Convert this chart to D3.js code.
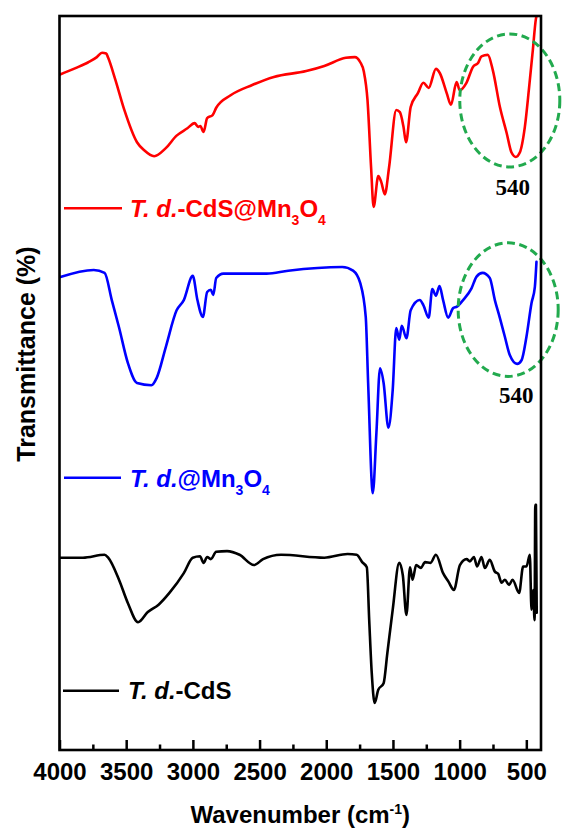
<!DOCTYPE html>
<html>
<head>
<meta charset="utf-8">
<script src="https://cdn.jsdelivr.net/npm/d3@7/dist/d3.min.js"></script>
<style>
  html, body { margin: 0; padding: 0; background: #fff; }
  svg { display: block; }
  text { font-family: "Liberation Sans", Arial, sans-serif; font-weight: bold; }
</style>
</head>
<body>
<svg id="chart" width="563" height="832"></svg>
<script>
// ---- Data (wavenumber cm^-1, transmittance a.u., stacked) ----
const redSeries = [
  [4000,92.0],[3880,92.9],[3784,93.7],[3720,94.4],[3681,95.0],[3650,94.9],[3635,94.3],[3581,91.3],[3514,87.2],[3419,82.8],[3365,81.7],
  [3290,80.9],[3203,82.0],[3122,83.7],[3041,84.7],[2987,85.4],[2960,84.9],[2944,85.0],[2920,84.2],
  [2893,86.1],[2852,86.5],[2825,87.5],[2717,89.2],[2555,90.6],[2393,91.7],[2150,92.5],[2015,93.2],
  [1853,94.3],[1786,94.4],[1745,93.7],[1718,92.4],[1691,88.6],[1664,79.4],[1645,74.0],[1610,78.2],
  [1588,77.4],[1561,75.7],[1529,79.4],[1475,87.2],[1448,86.9],[1421,84.9],[1402,82.8],[1367,87.6],
  [1313,89.5],[1272,90.9],[1232,90.2],[1178,92.8],[1148,92.2],[1097,89.5],[1065,87.9],[1023,91.0],
  [999,89.9],[949,90.9],[899,93.1],[862,93.6],[836,94.5],[789,94.7],[751,92.6],[698,87.6],
  [648,84.1],[611,81.4],[579,80.8],[549,81.4],[511,84.9],[479,90.3],[451,95.4],[429,99.5],[424,100]
];
const blueSeries = [
  [4000,64.4],[3743,65.4],[3662,65.0],[3608,61.3],[3554,57.6],[3487,52.7],[3419,50.0],[3311,49.7],
  [3271,50.7],[3203,54.9],[3122,59.9],[3068,61.3],[3001,64.6],[2966,61.3],[2925,59.0],[2893,62.4],
  [2866,62.7],[2847,62.0],[2825,64.3],[2771,64.9],[2447,64.9],[2285,65.3],[1880,65.8],[1799,65.3],
  [1745,63.6],[1704,59.0],[1686,50.0],[1651,35.0],[1624,43.2],[1597,52.0],[1570,50.0],[1534,43.9],
  [1502,49.0],[1475,57.5],[1453,55.9],[1434,57.8],[1399,56.1],[1367,59.9],[1299,61.3],[1272,60.6],
  [1232,58.9],[1205,62.8],[1178,61.9],[1151,63.2],[1124,61.3],[1086,58.9],[1049,60.2],[1020,60.4],
  [974,61.3],[911,62.9],[873,64.5],[828,65.0],[774,64.3],[736,61.3],[699,58.9],[661,56.3],
  [624,53.8],[569,52.6],[536,53.1],[499,56.3],[461,60.9],[436,63.1],[424,66.5]
];
const blackSeries = [
  [4000,26.2],[3824,26.2],[3662,26.6],[3635,26.2],[3554,23.2],[3487,20.0],[3411,17.4],[3338,18.8],
  [3257,19.8],[3176,21.4],[3068,24.1],[3001,26.2],[2947,26.4],[2920,25.5],[2893,26.3],[2866,26.0],
  [2825,27.0],[2744,27.1],[2650,26.6],[2542,25.2],[2474,26.0],[2339,26.6],[2015,26.2],[1840,26.7],
  [1772,26.6],[1731,25.6],[1696,24.9],[1678,17.7],[1659,10.5],[1637,6.4],[1610,8.2],[1570,9.1],
  [1542,13.2],[1502,19.1],[1453,25.5],[1426,23.8],[1399,18.4],[1372,24.9],[1353,23.2],[1326,25.2],
  [1291,24.8],[1259,25.6],[1218,25.5],[1178,26.6],[1124,24.1],[1083,22.9],[1043,21.8],[998,25.2],
  [948,26.0],[923,25.7],[893,26.3],[869,25.0],[836,26.3],[811,24.8],[774,25.9],[736,24.3],
  [711,24.0],[686,22.8],[661,23.2],[629,22.5],[603,23.2],[554,21.4],[524,25.0],[499,25.0],
  [474,26.6],[461,19.1],[449,21.8],[438,17.7],[433,33.4],[428,33.4],[422,18.7]
];
const xMajorTicks = [4000,3500,3000,2500,2000,1500,1000,500];
const xMinorTicks = [3750,3250,2750,2250,1750,1250,750];
const seriesNames = ["T. d.-CdS@Mn3O4","T. d.@Mn3O4","T. d.-CdS"];
const seriesColors = ["#ff0000","#0000ff","#000000"];
// annotations: ellipse centre (wavenumber, value), half-width (cm^-1), half-height (value)
const ellipses = [[624,88.5,375,9.06],[636,60.0,375,9.1]];
const peakLabels = [[601,75.6,"540"],[575,47.3,"540"]];

// ---- Layout ----
const svg = d3.select("#chart");
const L = 59.5, R = 541, T = 16, B = 750;
const x = d3.scaleLinear().domain([4000, 390]).range([L, R]);
const y = d3.scaleLinear().domain([0, 100]).range([B, T]);

const line = d3.line().x(d => x(d[0])).y(d => y(d[1])).curve(d3.curveMonotoneX);

svg.append("defs").append("clipPath").attr("id","clip")
  .append("rect").attr("x",L).attr("y",T).attr("width",R-L).attr("height",B-T);

const allSeries = [redSeries, blueSeries, blackSeries];
const g = svg.append("g").attr("clip-path","url(#clip)");
allSeries.forEach((s,i) => {
  g.append("path").datum(s)
    .attr("d", line)
    .attr("fill","none")
    .attr("stroke", seriesColors[i])
    .attr("stroke-width", 2.6)
    .attr("stroke-linejoin","round")
    .attr("stroke-linecap","round");
});

// ellipses
ellipses.forEach(e => {
  svg.append("ellipse")
    .attr("cx", x(e[0])).attr("cy", y(e[1]))
    .attr("rx", Math.abs(x(e[0]+e[2]) - x(e[0])))
    .attr("ry", Math.abs(y(e[1]+e[3]) - y(e[1])))
    .attr("fill","none")
    .attr("stroke","#22aa4e")
    .attr("stroke-width",3)
    .attr("stroke-dasharray","8,4.5");
});
peakLabels.forEach(p => {
  svg.append("text")
    .attr("x", x(p[0])).attr("y", y(p[1]))
    .attr("text-anchor","middle")
    .style("font-family","'Liberation Serif','Times New Roman',serif")
    .style("font-size","23px")
    .attr("fill","#000")
    .text(p[2]);
});

// axes
const axMajor = d3.axisBottom(x).tickValues(xMajorTicks).tickFormat(d3.format("d"))
  .tickSizeInner(-10).tickSizeOuter(0).tickPadding(13);
const gx = svg.append("g").attr("transform",`translate(0,${B})`).call(axMajor);
gx.select(".domain").remove();
gx.selectAll(".tick line").attr("stroke","#000").attr("stroke-width",2.5);
gx.selectAll(".tick text").style("font-size","24px").style("font-family","'Liberation Sans',Arial,sans-serif").style("font-weight","bold").attr("fill","#000");

const axMinor = d3.axisBottom(x).tickValues(xMinorTicks).tickSizeInner(-5.5).tickSizeOuter(0).tickFormat("");
const gm = svg.append("g").attr("transform",`translate(0,${B})`).call(axMinor);
gm.select(".domain").remove();
gm.selectAll(".tick line").attr("stroke","#000").attr("stroke-width",2.5);

// frame
svg.append("rect").attr("x",L).attr("y",T).attr("width",R-L).attr("height",B-T)
  .attr("fill","none").attr("stroke","#000").attr("stroke-width",2.6);

// axis titles
const xt = svg.append("text").attr("x",(L+R)/2).attr("y",823).attr("text-anchor","middle")
  .style("font-size","24px").attr("fill","#000");
xt.append("tspan").text("Wavenumber (cm");
xt.append("tspan").attr("dy",-9).style("font-size","14px").text("-1");
xt.append("tspan").attr("dy",9).text(")");

svg.append("text").attr("transform","translate(35,354) rotate(-90)").attr("text-anchor","middle")
  .style("font-size","25px").attr("fill","#000").text("Transmittance (%)");

// legends
const legendPos = [[64,122,208.3,130,216.7],[64,121,477.7,130,486.7],[63,119,690.7,128,699.3]];
legendPos.forEach((p,i) => {
  svg.append("line").attr("x1",p[0]).attr("x2",p[1]).attr("y1",p[2]).attr("y2",p[2])
    .attr("stroke",seriesColors[i]).attr("stroke-width",2.6);
  const t = svg.append("text").attr("x",p[3]).attr("y",p[4]).attr("fill",seriesColors[i]).style("font-size","24px");
  const name = seriesNames[i];
  t.append("tspan").style("font-style","italic").text("T. d.");
  const rest = name.slice(5);
  const m = rest.match(/^(.*?Mn)3O4$/);
  if (m) {
    t.append("tspan").text(m[1]);
    t.append("tspan").attr("dy",8).style("font-size","14px").text("3");
    t.append("tspan").attr("dy",-8).text("O");
    t.append("tspan").attr("dy",8).style("font-size","14px").text("4");
  } else {
    t.append("tspan").text(rest);
  }
});
</script>
</body>
</html>
